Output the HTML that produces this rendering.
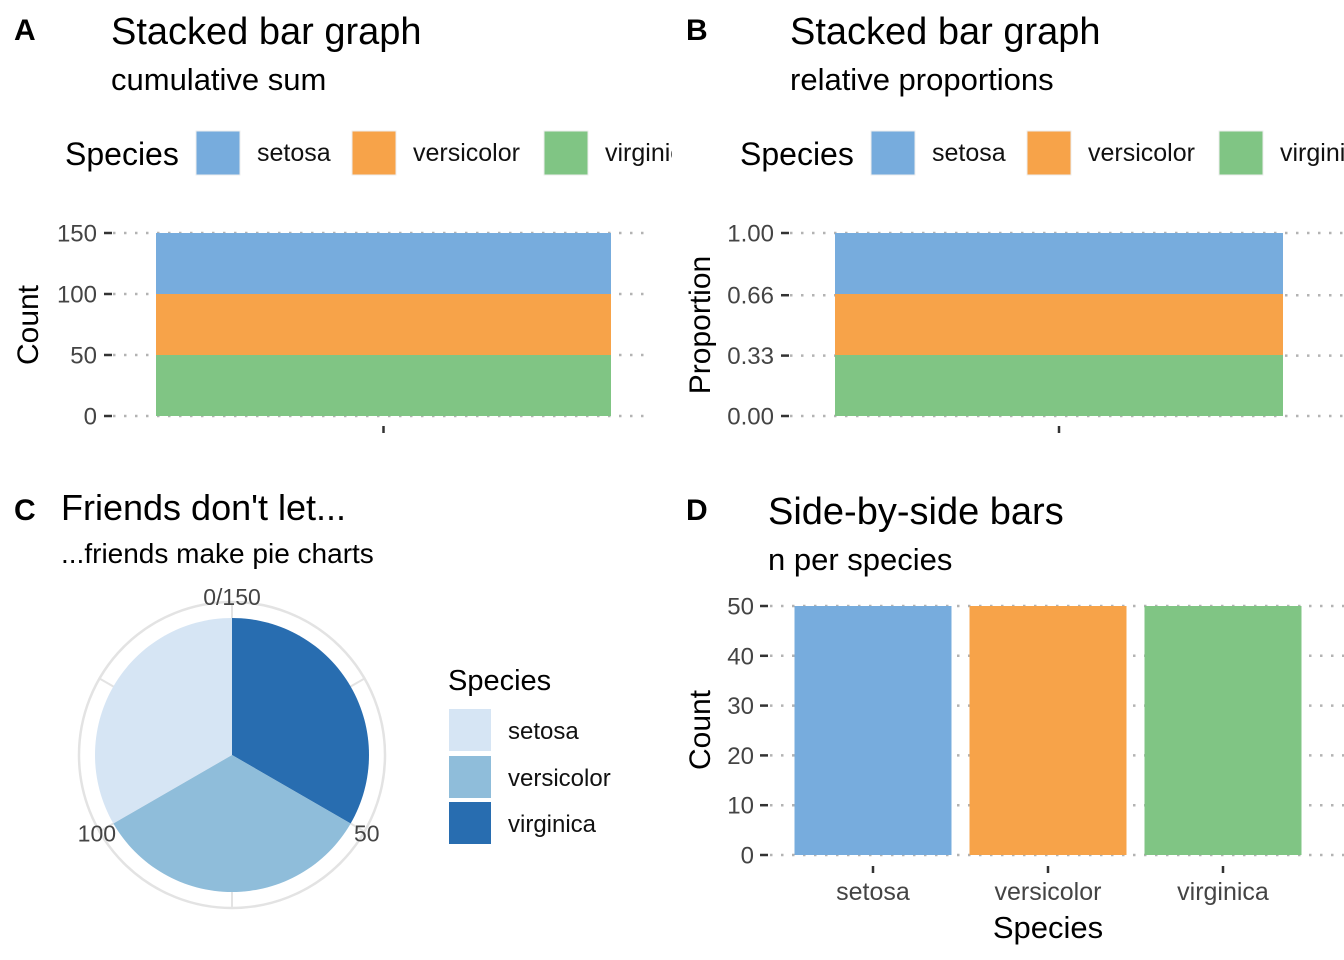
<!DOCTYPE html>
<html><head><meta charset="utf-8">
<style>
html,body{margin:0;padding:0;background:#fff;}
svg{display:block;font-family:"Liberation Sans",Arial,sans-serif;}
</style></head>
<body>
<svg id="root" width="1344" height="960" viewBox="0 0 1344 960">
<defs><clipPath id="clipA"><rect x="0" y="0" width="672" height="960"/></clipPath></defs>
<g id="gA">
<text x="14" y="40" font-size="30" font-weight="bold">A</text>
<text x="111" y="44" font-size="38" fill="#000">Stacked bar graph</text>
<text x="111" y="90" font-size="31">cumulative sum</text>
<g clip-path="url(#clipA)" id="legA"></g>
<text transform="translate(38,325) rotate(-90)" text-anchor="middle" font-size="30">Count</text>
</g>
<g id="gB">
<text x="686" y="40" font-size="30" font-weight="bold">B</text>
<text x="790" y="44" font-size="38">Stacked bar graph</text>
<text x="790" y="90" font-size="31">relative proportions</text>
<g id="legB"></g>
<text transform="translate(710,325) rotate(-90)" text-anchor="middle" font-size="30">Proportion</text>
</g>
<g id="gC">
<text x="14" y="520" font-size="30" font-weight="bold">C</text>
<text x="61" y="520" font-size="36">Friends don't let...</text>
<text x="61" y="563" font-size="28">...friends make pie charts</text>
<text x="448" y="690" font-size="29">Species</text>
</g>
<g id="gD">
<text x="686" y="520" font-size="30" font-weight="bold">D</text>
<text x="768" y="524" font-size="38">Side-by-side bars</text>
<text x="768" y="570" font-size="31">n per species</text>
<text transform="translate(710,730) rotate(-90)" text-anchor="middle" font-size="30">Count</text>
<text x="1048" y="938" text-anchor="middle" font-size="31">Species</text>
</g>
</svg>
<script>
const species = ["setosa","versicolor","virginica"];
const counts = [50,50,50];
const colors = ["#77ACDD","#F7A349","#80C584"];
const pieColors = ["#D6E5F4","#8FBDDA","#286DB0"];
const ticksA = [0,50,100,150];
const ticksB = [0,0.33,0.66,1.00];
const ticksBLabels = ["0.00","0.33","0.66","1.00"];
const ticksD = [0,10,20,30,40,50];
const pieTicks = [0,50,100];
const pieTickLabels = ["0/150","50","100"];

const NS="http://www.w3.org/2000/svg";
function mk(parent,tag,attrs,txt){const e=document.createElementNS(NS,tag);for(const k in attrs)e.setAttribute(k,attrs[k]);if(txt!==undefined)e.textContent=txt;parent.appendChild(e);return e;}
const total = counts.reduce((a,b)=>a+b,0);
const GRID={stroke:'#b3b3b3','stroke-width':2.5,'stroke-dasharray':'2.5,8.5'};

function legend(g,x0){
  const t=mk(g,'text',{x:x0,y:165,'font-size':32});t.textContent='Species';
  
  
  const offs=[131,287,479];
  species.forEach((s,i)=>{
    const r=mk(g,'rect',{x:x0+offs[i],y:131,width:44,height:44,fill:colors[i],stroke:'#eee','stroke-width':1});
    
    
    const tx=mk(g,'text',{x:x0+offs[i]+61,y:161,'font-size':25,fill:'#111'},s);
    
    
  });
}
legend(document.getElementById('legA'),65);
legend(document.getElementById('legB'),740);

function stacked(g,cfg){
  const y=v=>cfg.y0-(v/cfg.max)*(cfg.y0-cfg.y1);
  cfg.ticks.forEach((t,i)=>{
    const l=mk(g,'line',Object.assign({x1:cfg.gx0,x2:cfg.gx1,y1:y(t),y2:y(t)},GRID));
    
    
  });
  let cum=0;
  for(let i=species.length-1;i>=0;i--){
    const v=cfg.vals[i];
    const r=mk(g,'rect',{x:cfg.bx0,width:cfg.bx1-cfg.bx0,y:y(cum+v),height:y(cum)-y(cum+v),fill:colors[i]});
    
    
    cum+=v;
  }
  cfg.ticks.forEach((t,i)=>{
    const tk=mk(g,'line',{x1:cfg.gx0-9,x2:cfg.gx0-1,y1:y(t),y2:y(t),stroke:'#333','stroke-width':2.5});
    
    
    const lb=mk(g,'text',{x:cfg.gx0-16,y:y(t)+8.5,'text-anchor':'end','font-size':24,fill:'#444'},cfg.labels[i]);
    
    
  });
  const xt=mk(g,'line',{x1:(cfg.bx0+cfg.bx1)/2,x2:(cfg.bx0+cfg.bx1)/2,y1:cfg.y0+10,y2:cfg.y0+17,stroke:'#333','stroke-width':2.5});
  
  
}
stacked(document.getElementById('gA'),{y0:416,y1:233,max:150,ticks:ticksA,labels:ticksA.map(String),vals:counts,gx0:113,gx1:650,bx0:156,bx1:611});
stacked(document.getElementById('gB'),{y0:416,y1:233,max:1,ticks:ticksB,labels:ticksBLabels,vals:counts.map(c=>c/total),gx0:790,gx1:1344,bx0:835,bx1:1283});

(function(){
  const g=document.getElementById('gC');
  const cx=232,cy=755,r=137,R=153;
  const ang=v=>v/total*2*Math.PI;
  const pt=(a,rr)=>[cx+rr*Math.sin(a),cy-rr*Math.cos(a)];
  const oc=mk(g,'circle',{cx:cx,cy:cy,r:R,fill:'none',stroke:'#e3e3e3','stroke-width':2.5});
  
  
  for(let k=0;k<6;k++){
    const a=ang(k*total/6);const p1=pt(a,0),p2=pt(a,R);
    const l=mk(g,'line',{x1:p1[0],y1:p1[1],x2:p2[0],y2:p2[1],stroke:'#e3e3e3','stroke-width':2});
    
    
  }
  let start=0;
  for(let i=species.length-1;i>=0;i--){
    const a0=ang(start),a1=ang(start+counts[i]);
    const p0=pt(a0,r),p1=pt(a1,r);
    const large=(a1-a0)>Math.PI?1:0;
    const p=mk(g,'path',{d:`M${cx},${cy} L${p0[0]},${p0[1]} A${r},${r} 0 ${large} 1 ${p1[0]},${p1[1]} Z`,fill:pieColors[i]});
    
    
    start+=counts[i];
  }
  pieTicks.forEach((t,i)=>{
    const a=ang(t);const p=pt(a,R+4);
    const anc=i===0?'middle':(t<total/2?'start':'end');
    const tx=mk(g,'text',{x:i===0?p[0]:(t<total/2?p[0]-14:p[0]+20),y:i===0?p[1]+7:p[1]+8,'text-anchor':anc,'font-size':23,fill:'#444'},pieTickLabels[i]);
    
    
  });
  const ys=[709,756,802];
  species.forEach((s,i)=>{
    const k=mk(g,'rect',{x:449,y:ys[i],width:42,height:42,fill:pieColors[i]});
    
    
    const tx=mk(g,'text',{x:508,y:ys[i]+30,'font-size':24,fill:'#111'},s);
    
    
  });
})();

(function(){
  const g=document.getElementById('gD');
  const y0=855,y1=606,max=50;
  const y=v=>y0-v/max*(y0-y1);
  const band=175,xc=i=>873+i*band,bw=157;
  ticksD.forEach(t=>{
    const l=mk(g,'line',Object.assign({x1:770,x2:1344,y1:y(t),y2:y(t)},GRID));
    
    
  });
  species.forEach((s,i)=>{
    const r=mk(g,'rect',{x:xc(i)-bw/2,width:bw,y:y(counts[i]),height:y0-y(counts[i]),fill:colors[i]});
    
    
    const tk=mk(g,'line',{x1:xc(i),x2:xc(i),y1:y0+11,y2:y0+18,stroke:'#333','stroke-width':2.5});
    
    
    const lb=mk(g,'text',{x:xc(i),y:y0+45,'text-anchor':'middle','font-size':25,fill:'#444'},s);
    
    
  });
  ticksD.forEach(t=>{
    const tk=mk(g,'line',{x1:760,x2:768,y1:y(t),y2:y(t),stroke:'#333','stroke-width':2.5});
    
    
    const lb=mk(g,'text',{x:754,y:y(t)+8.5,'text-anchor':'end','font-size':24,fill:'#444'},String(t));
    
    
  });
})();
</script>
</body></html>
